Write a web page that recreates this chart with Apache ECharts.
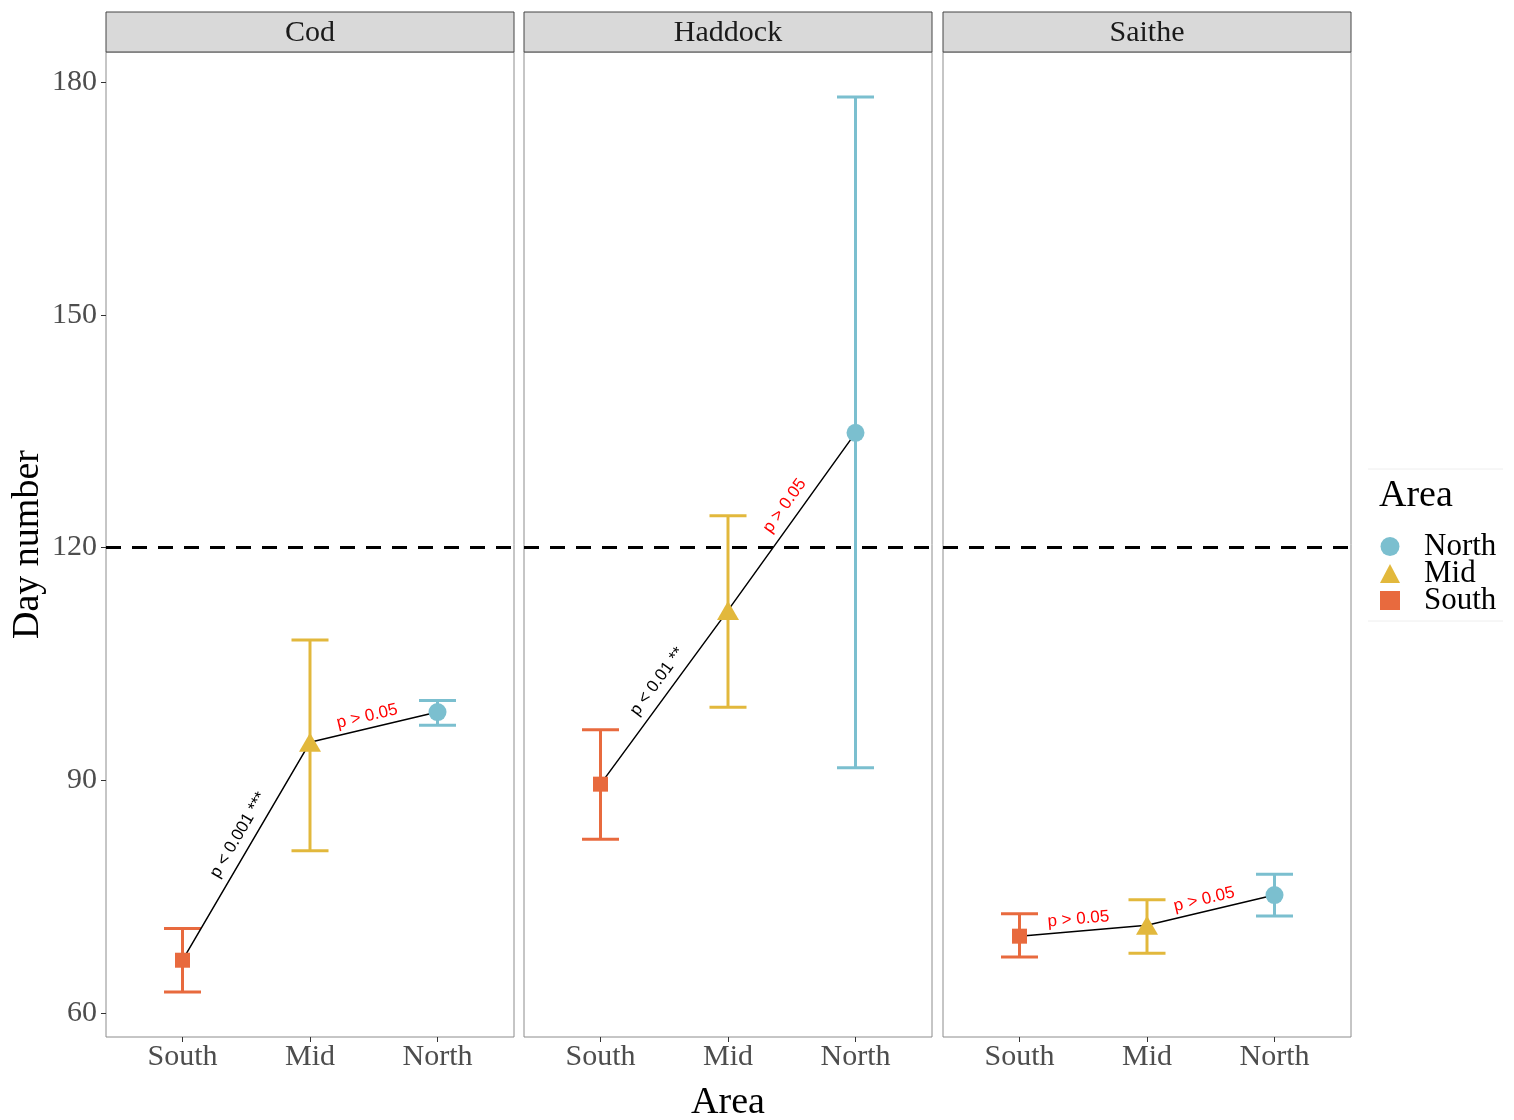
<!DOCTYPE html>
<html>
<head>
<meta charset="utf-8">
<script src="https://cdn.jsdelivr.net/npm/echarts@6/dist/echarts.min.js"></script>
<style>html,body{margin:0;padding:0;background:#fff;}#c{width:1514px;height:1120px;}</style>
</head>
<body>
<div id="c"></div>
<script>
// ---------- data ----------
const areas = ['South', 'Mid', 'North'];
const species = ['Cod', 'Haddock', 'Saithe'];
const yTicks = [60, 90, 120, 150, 180];
const threshold = 120;

const codMean = [66.8, 94.9, 98.8];
const codLow = [62.7, 80.9, 97.1];
const codHigh = [70.9, 108.1, 100.3];

const haddockMean = [89.5, 111.9, 134.8];
const haddockLow = [82.4, 99.4, 91.6];
const haddockHigh = [96.5, 124.1, 178.1];

const saitheMean = [69.9, 71.3, 75.2];
const saitheLow = [67.2, 67.7, 72.5];
const saitheHigh = [72.8, 74.6, 77.9];

const codPLabels = ['p < 0.001 ***', 'p > 0.05'];
const haddockPLabels = ['p < 0.01 **', 'p > 0.05'];
const saithePLabels = ['p > 0.05', 'p > 0.05'];
const codSignif = [true, false];
const haddockSignif = [true, false];
const saitheSignif = [false, false];

// ---------- styling ----------
const areaColor = { North: '#7bbfcf', Mid: '#e2b83c', South: '#e86a3e' };
const areaSymbol = { North: 'circle', Mid: 'triangle', South: 'rect' };
const areaSize = { North: 18, Mid: [22, 19], South: 15 };
const serif = '"Liberation Serif", "Times New Roman", serif';
const sans = '"Liberation Sans", Arial, sans-serif';

const means = [codMean, haddockMean, saitheMean];
const lows = [codLow, haddockLow, saitheLow];
const highs = [codHigh, haddockHigh, saitheHigh];
const pLabels = [codPLabels, haddockPLabels, saithePLabels];
const signif = [codSignif, haddockSignif, saitheSignif];

const panelLeft = [106, 524, 943];
const panelW = 408, panelTop = 52, panelH = 985;

const grids = [], xAxes = [], yAxes = [], series = [], graphics = [];

species.forEach((sp, k) => {
  grids.push({ left: panelLeft[k], top: panelTop, width: panelW, height: panelH,
    outerBoundsMode: 'none', containLabel: false,
    show: true, borderColor: '#8c8c8c', borderWidth: 1, backgroundColor: 'transparent' });
  xAxes.push({
    gridIndex: k, type: 'value', min: 0.4, max: 3.6,
    name: k === 1 ? 'Area' : '', nameLocation: 'middle', nameGap: 47,
    nameTextStyle: { fontFamily: serif, fontSize: 38, color: '#000' },
    axisLine: { show: false }, splitLine: { show: false },
    axisTick: { show: true, customValues: [1, 2, 3], length: 5, lineStyle: { color: '#333', width: 1 } },
    axisLabel: { customValues: [1, 2, 3], formatter: v => areas[Math.round(v) - 1],
      fontFamily: serif, fontSize: 30, color: '#4d4d4d', margin: 5 }
  });
  yAxes.push({
    gridIndex: k, type: 'value', min: 56.9, max: 183.9,
    name: k === 0 ? 'Day number' : '', nameLocation: 'middle', nameGap: 59, nameRotate: 90,
    nameTextStyle: { fontFamily: serif, fontSize: 38, color: '#000' },
    axisLine: { show: false }, splitLine: { show: false },
    axisTick: { show: k === 0, customValues: yTicks, length: 5, lineStyle: { color: '#333', width: 1 } },
    axisLabel: { show: k === 0, customValues: yTicks, fontFamily: serif, fontSize: 30, color: '#4d4d4d', margin: 9 }
  });

  // error bars
  series.push({
    type: 'custom', xAxisIndex: k, yAxisIndex: k, silent: true, z: 2,
    data: areas.map((a, i) => [i + 1, lows[k][i], highs[k][i]]),
    markLine: {
      silent: true, symbol: 'none', label: { show: false },
      lineStyle: { color: '#000', type: [15, 11], width: 3 },
      data: [{ yAxis: threshold }]
    },
    renderItem: (params, api) => {
      const x = api.value(0);
      const lo = api.coord([x, api.value(1)]);
      const hi = api.coord([x, api.value(2)]);
      const half = 18.5;
      const c = areaColor[areas[params.dataIndex]];
      const st = { stroke: c, lineWidth: 3 };
      return { type: 'group', children: [
        { type: 'line', shape: { x1: lo[0], y1: lo[1], x2: hi[0], y2: hi[1] }, style: st },
        { type: 'line', shape: { x1: lo[0] - half, y1: lo[1], x2: lo[0] + half, y2: lo[1] }, style: st },
        { type: 'line', shape: { x1: hi[0] - half, y1: hi[1], x2: hi[0] + half, y2: hi[1] }, style: st }
      ]};
    }
  });

  // connecting line
  series.push({
    type: 'line', xAxisIndex: k, yAxisIndex: k, silent: true, z: 3,
    data: areas.map((a, i) => [i + 1, means[k][i]]),
    symbol: 'none', lineStyle: { color: '#000', width: 1.5 }
  });

  // points
  areas.forEach((a, i) => {
    series.push({
      name: a, type: 'scatter', xAxisIndex: k, yAxisIndex: k, z: 4,
      symbol: areaSymbol[a], symbolSize: areaSize[a],
      itemStyle: { color: areaColor[a], opacity: 1 },
      data: [[i + 1, means[k][i]]]
    });
  });

  // p-value annotations
  series.push({
    type: 'custom', xAxisIndex: k, yAxisIndex: k, silent: true, z: 5,
    data: pLabels[k].map((t, i) => [i]),
    renderItem: (params, api) => {
      const i = params.dataIndex;
      const p1 = api.coord([i + 1, means[k][i]]);
      const p2 = api.coord([i + 2, means[k][i + 1]]);
      const dx = p2[0] - p1[0], dy = p2[1] - p1[1];
      const len = Math.sqrt(dx * dx + dy * dy);
      const steep = Math.abs(dy) > 60;
      const t = steep ? 0.54 : 0.47;
      const off = steep ? 15 : 12;
      const cx = p1[0] + dx * t + (dy / len) * off;
      const cy = p1[1] + dy * t + (-dx / len) * off;
      return {
        type: 'text', x: cx, y: cy, rotation: Math.atan2(-dy, dx),
        style: { text: pLabels[k][i], fill: signif[k][i] ? '#000' : '#ff0000',
          font: '17px ' + sans, textAlign: 'center', textVerticalAlign: 'middle' }
      };
    }
  });

  // strip
  graphics.push({ type: 'rect', shape: { x: panelLeft[k], y: 12, width: panelW, height: 40 },
    style: { fill: '#d9d9d9', stroke: '#444', lineWidth: 1 } });
  graphics.push({ type: 'text', x: panelLeft[k] + panelW / 2, y: 33,
    style: { text: sp, font: '30px ' + serif, fill: '#1a1a1a', textAlign: 'center', textVerticalAlign: 'middle' } });
});

// legend decoration
graphics.push({ type: 'line', shape: { x1: 1368, y1: 469, x2: 1503, y2: 469 }, style: { stroke: '#eeeeee', lineWidth: 1 } });
graphics.push({ type: 'line', shape: { x1: 1368, y1: 621, x2: 1503, y2: 621 }, style: { stroke: '#eeeeee', lineWidth: 1 } });
graphics.push({ type: 'text', x: 1379, y: 496,
  style: { text: 'Area', font: '38px ' + serif, fill: '#000', textAlign: 'left', textVerticalAlign: 'middle' } });

const chart = echarts.init(document.getElementById('c'), null, { renderer: 'canvas' });
chart.setOption({
  animation: false,
  backgroundColor: '#fff',
  grid: grids,
  xAxis: xAxes,
  yAxis: yAxes,
  legend: {
    data: ['North', 'Mid', 'South'], orient: 'vertical', left: 1380, top: 531,
    itemWidth: 20, itemHeight: 19, itemGap: -4, selectedMode: false, padding: 0,
    textStyle: { fontFamily: serif, fontSize: 31, lineHeight: 27, color: '#000', padding: [0, 0, 0, 19] }
  },
  graphic: graphics,
  series: series
});
</script>
</body>
</html>
